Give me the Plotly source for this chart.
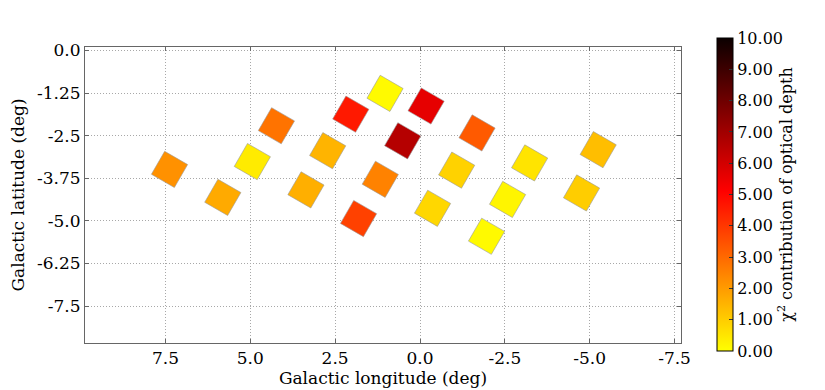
import plotly.graph_objects as go

# field centres (galactic coordinates, deg) and chi^2 contribution
lon = [7.38, 5.81, 4.94, 4.23, 3.36, 2.72, 2.04, 1.81, 1.17, 1.03,
       0.51, -0.18, -0.37, -1.08, -1.68, -1.96, -2.58, -3.23, -4.76, -5.25]
lat = [-3.49, -4.31, -3.26, -2.21, -4.09, -2.94, -1.87, -4.93, -3.78, -1.26,
       -2.65, -1.63, -4.63, -3.51, -2.42, -5.45, -4.37, -3.30, -4.18, -2.91]
chi2 = [2.2, 1.7, 0.4, 2.8, 1.6, 1.5, 4.6, 3.8, 2.5, 0.1,
        6.6, 5.6, 0.8, 0.9, 3.3, 0.1, 0.2, 0.55, 1.0, 1.3]

x_ticks = [7.5, 5.0, 2.5, 0.0, -2.5, -5.0, -7.5]
x_labels = ["7.5", "5.0", "2.5", "0.0", "-2.5", "-5.0", "-7.5"]
y_ticks = [0.0, -1.25, -2.5, -3.75, -5.0, -6.25, -7.5]
y_labels = ["0.0", "-1.25", "-2.5", "-3.75", "-5.0", "-6.25", "-7.5"]
cb_ticks = list(range(0, 11))
cb_labels = [f"{v:.2f}" for v in cb_ticks]

# matplotlib "hot_r" with the white end cut off
hot_cut = [[0.0, "rgb(255,255,0)"], [0.5106, "rgb(255,0,0)"], [1.0, "rgb(11,0,0)"]]

font = "DejaVu Serif"

# plot area on screen: x 85..681, y 47..343 (page body adds an 8px offset)
plot_w, plot_h = 596, 296
off = 8

fig = go.Figure()
fig.add_trace(
    go.Scatter(
        x=lon,
        y=lat,
        mode="markers",
        marker=dict(
            symbol="square",
            size=26.5,
            angle=30,
            color=chi2,
            cmin=0,
            cmax=10,
            colorscale=hot_cut,
            line=dict(color="#999999", width=0.6),
            colorbar=dict(
                x=(717 - 85) / plot_w,
                xanchor="left",
                xpad=0,
                ypad=0,
                y=(343 - 351) / plot_h,
                yanchor="bottom",
                len=313 / plot_h,
                lenmode="fraction",
                thickness=16,
                outlinecolor="black",
                outlinewidth=1,
                tickvals=cb_ticks,
                ticktext=cb_labels,
                ticks="inside",
                ticklen=4,
                tickcolor="#333",
                tickfont=dict(family=font, size=16, color="black"),
                title=dict(
                    text="χ<sup>2</sup> contribution of optical depth",
                    side="right",
                    font=dict(family=font, size=16, color="black"),
                ),
            ),
        ),
        showlegend=False,
        hoverinfo="x+y+text",
        text=[f"{v:.2f}" for v in chi2],
    )
)

axis_common = dict(
    showline=True,
    linecolor="#666666",
    linewidth=1,
    mirror="allticks",
    ticks="inside",
    ticklen=4,
    tickcolor="#666666",
    showgrid=True,
    gridcolor="#a8a8a8",
    griddash="1px,2px",
    gridwidth=1,
    zeroline=False,
    automargin=False,
    tickfont=dict(family=font, size=17, color="black"),
)

fig.update_xaxes(
    range=[9.87, -7.69],
    tickvals=x_ticks,
    ticktext=x_labels,
    title=dict(text="Galactic longitude (deg)", standoff=2,
               font=dict(family=font, size=17, color="black")),
    **axis_common,
)
fig.update_yaxes(
    range=[-8.58, 0.10],
    tickvals=y_ticks,
    ticktext=y_labels,
    title=dict(text="Galactic latitude (deg)", standoff=8,
               font=dict(family=font, size=17, color="black")),
    **axis_common,
)

fig.update_layout(
    width=825,
    height=390,
    margin=dict(l=85 - off, r=825 - 681 + off, t=47 - off, b=390 - 343 + off,
                autoexpand=False),
    paper_bgcolor="white",
    plot_bgcolor="white",
    font=dict(family=font, color="black"),
)

fig.write_html("out.html")
